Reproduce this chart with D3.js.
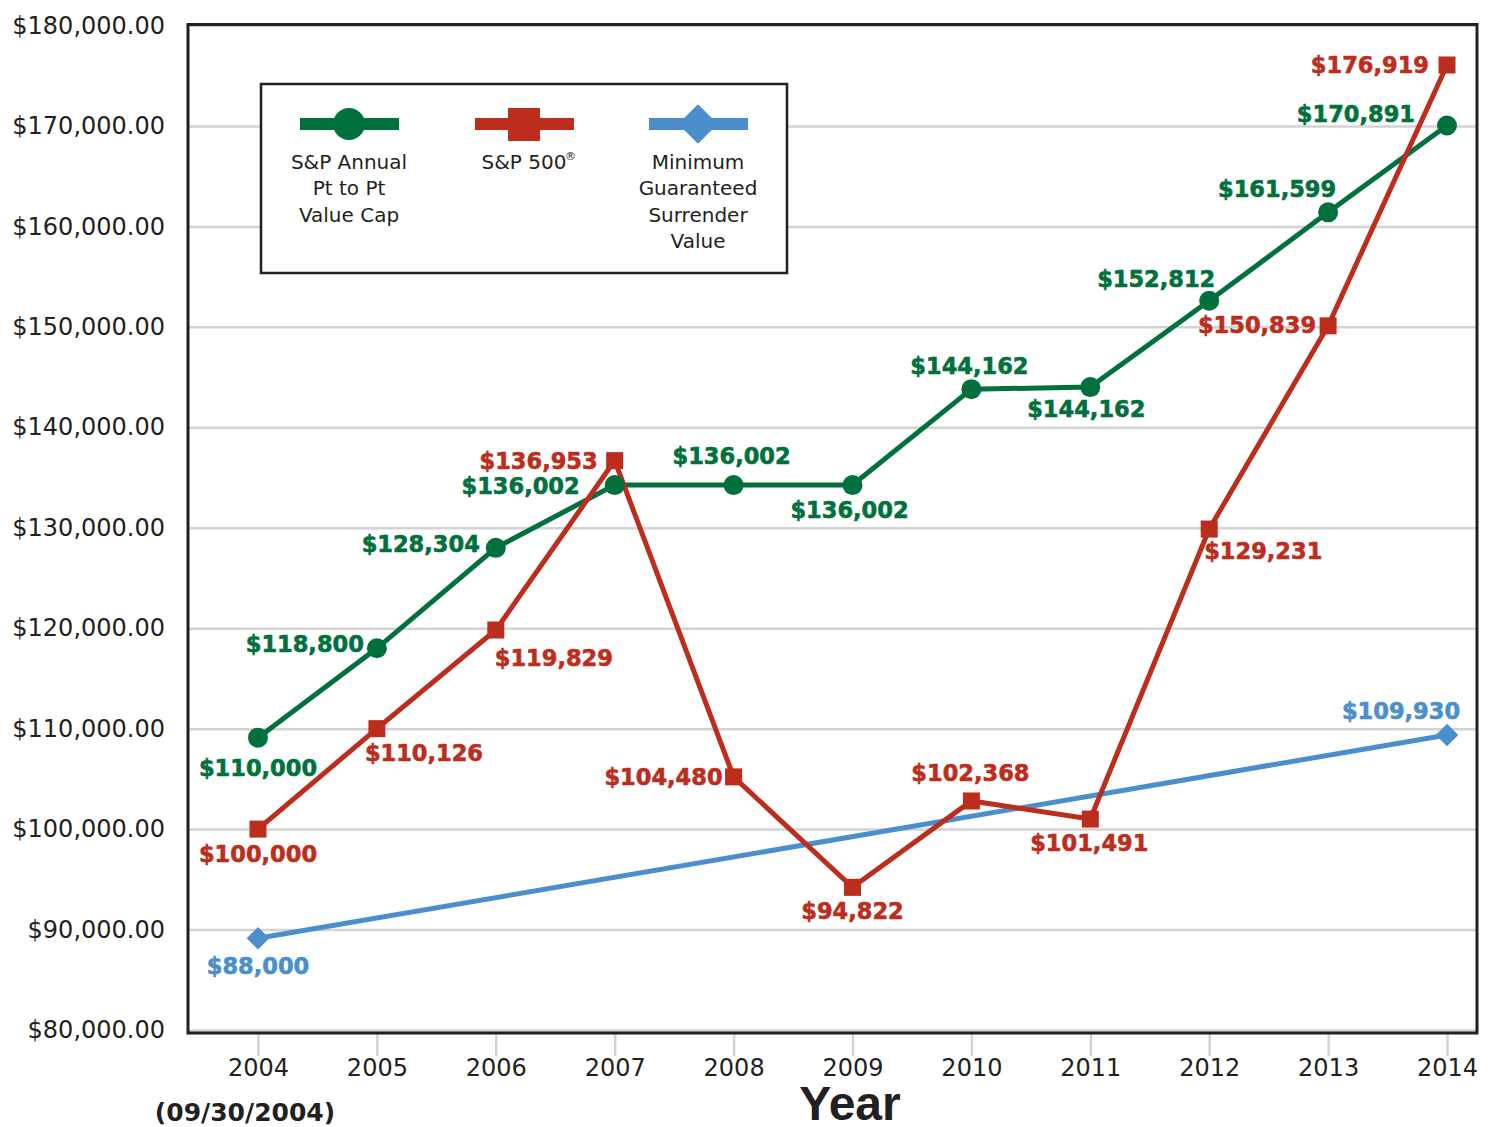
<!DOCTYPE html>
<html>
  <head>
    <title>Annual Pt to Pt vs S&amp;P 500</title>
    <script src="https://d3js.org/d3.v7.min.js"></script>
    <style>
      body {
        margin: 0;
        background-color: white;
      }
      svg text {
        fill: #231f20;
      }
    </style>
  </head>
  <body>
    <script>
      // data
      const years = [2004, 2005, 2006, 2007, 2008, 2009, 2010, 2011, 2012, 2013, 2014];
      const capValues = [109100, 118000, 128000, 134250, 134250, 134250, 143800, 144000, 152600, 161400, 170050];
      const capLabels = ['$110,000', '$118,800', '$128,304', '$136,002', '$136,002', '$136,002',
                         '$144,162', '$144,162', '$152,812', '$161,599', '$170,891'];
      const spValues = [100000, 110000, 119820, 136680, 105200, 94200, 102800, 101000, 129870, 150100, 176070];
      const spLabels = ['$100,000', '$110,126', '$119,829', '$136,953', '$104,480', '$94,822',
                        '$102,368', '$101,491', '$129,231', '$150,839', '$176,919'];
      const minYears = [2004, 2014];
      const minValues = [89130, 109370];
      const minLabels = ['$88,000', '$109,930'];
      const yTicks = [80000, 90000, 100000, 110000, 120000, 130000, 140000, 150000, 160000, 170000, 180000];

      const w = 1494;
      const h = 1127;
      const plotLeft = 188, plotRight = 1477, plotTop = 24.5, plotBottom = 1033;

      const green = '#00703c';
      const red = '#bd2d1d';
      const blue = '#4a8fcc';

      // label placement: [anchor, dx, dy]
      const capPlace = [['middle', 0, 38], ['end', -13, 4], ['end', -16, 4], ['end', -35, 9],
                        ['middle', -2, -21], ['middle', -3, 33], ['middle', -2, -15], ['middle', -4, 30],
                        ['middle', -53, -14], ['middle', -51, -15], ['end', -32, -3]];
      const spPlace = [['middle', 0, 33], ['start', -12, 32], ['start', -1, 36], ['end', -17, 8],
                       ['end', -11, 8], ['middle', 0, 32], ['middle', -1, -20], ['middle', -1, 32],
                       ['start', -5, 30], ['end', -12, 7], ['end', -18, 8]];
      const minPlace = [['middle', 0, 36], ['middle', -46, -16]];

      const svg = d3.select('body')
                    .append('svg')
                    .attr('width', w)
                    .attr('height', h);

      const x = d3.scaleLinear().domain([2004, 2014]).range([258, 1447]);
      const y = d3.scaleLinear().domain([80000, 180000]).range([1030, 25.5]);

      // gridlines + y labels
      const yAxis = svg.append('g')
                       .attr('transform', `translate(${plotLeft},0)`)
                       .call(d3.axisLeft(y)
                               .tickValues(yTicks)
                               .tickSize(-(plotRight - plotLeft))
                               .tickPadding(23)
                               .tickFormat(d3.format('$,.2f')));
      yAxis.select('.domain').remove();
      yAxis.selectAll('line').attr('stroke', '#d3d3d3').attr('stroke-width', 2.5);
      yAxis.selectAll('text')
           .style('font-family', 'DejaVu Sans')
           .style('font-size', '24px')
           .attr('fill', '#231f20');

      // x axis
      const xAxis = svg.append('g')
                       .attr('transform', `translate(0,${plotBottom})`)
                       .call(d3.axisBottom(x)
                               .tickValues(years)
                               .tickSize(23)
                               .tickPadding(3)
                               .tickFormat(d3.format('d')));
      xAxis.select('.domain').remove();
      xAxis.selectAll('line').attr('stroke', '#d3d3d3').attr('stroke-width', 2.5);
      xAxis.selectAll('text')
           .style('font-family', 'DejaVu Sans')
           .style('font-size', '24px')
           .attr('fill', '#231f20');

      // frame
      svg.append('rect')
         .attr('x', plotLeft)
         .attr('y', plotTop)
         .attr('width', plotRight - plotLeft)
         .attr('height', plotBottom - plotTop)
         .attr('fill', 'none')
         .attr('stroke', '#231f20')
         .attr('stroke-width', 3);

      svg.append('text')
         .attr('x', 850)
         .attr('y', 1120)
         .attr('text-anchor', 'middle')
         .style('font-family', 'Liberation Sans')
         .style('font-weight', 'bold')
         .style('font-size', '48px')
         .text('Year');

      svg.append('text')
         .attr('x', 245)
         .attr('y', 1121)
         .attr('text-anchor', 'middle')
         .style('font-family', 'DejaVu Sans')
         .style('font-weight', 'bold')
         .style('font-size', '25px')
         .text('(09/30/2004)');

      const line = d3.line().x(d => x(d[0])).y(d => y(d[1]));

      const capData = years.map((yr, i) => [yr, capValues[i]]);
      const spData = years.map((yr, i) => [yr, spValues[i]]);
      const minData = minYears.map((yr, i) => [yr, minValues[i]]);

      svg.append('path')
         .datum(minData)
         .attr('d', line)
         .attr('fill', 'none')
         .attr('stroke', blue)
         .attr('stroke-width', 5);

      svg.append('path')
         .datum(capData)
         .attr('d', line)
         .attr('fill', 'none')
         .attr('stroke', green)
         .attr('stroke-width', 5);

      svg.append('path')
         .datum(spData)
         .attr('d', line)
         .attr('fill', 'none')
         .attr('stroke', red)
         .attr('stroke-width', 5);

      svg.selectAll('.min-point')
         .data(minData)
         .enter()
         .append('rect')
         .attr('class', 'min-point')
         .attr('x', -8)
         .attr('y', -8)
         .attr('width', 16)
         .attr('height', 16)
         .attr('transform', d => `translate(${x(d[0])},${y(d[1])}) rotate(45)`)
         .attr('fill', blue);

      svg.selectAll('.cap-point')
         .data(capData)
         .enter()
         .append('circle')
         .attr('class', 'cap-point')
         .attr('cx', d => x(d[0]))
         .attr('cy', d => y(d[1]))
         .attr('r', 10)
         .attr('fill', green);

      svg.selectAll('.sp-point')
         .data(spData)
         .enter()
         .append('rect')
         .attr('class', 'sp-point')
         .attr('x', d => x(d[0]) - 8.5)
         .attr('y', d => y(d[1]) - 8.5)
         .attr('width', 17)
         .attr('height', 17)
         .attr('fill', red);

      function labels(data, texts, place, color) {
        svg.append('g')
           .selectAll('text')
           .data(data)
           .enter()
           .append('text')
           .attr('x', (d, i) => x(d[0]) + place[i][1])
           .attr('y', (d, i) => y(d[1]) + place[i][2])
           .attr('text-anchor', (d, i) => place[i][0])
           .style('font-family', 'DejaVu Sans')
           .style('font-weight', 'bold')
           .style('font-size', '22.5px')
           .style('fill', color)
           .style('stroke', color)
           .style('stroke-width', 0.6)
           .text((d, i) => texts[i]);
      }
      labels(capData, capLabels, capPlace, green);
      labels(spData, spLabels, spPlace, red);
      labels(minData, minLabels, minPlace, blue);

      // legend
      const legend = svg.append('g');
      legend.append('rect')
            .attr('x', 261)
            .attr('y', 84)
            .attr('width', 526)
            .attr('height', 189)
            .attr('fill', 'white')
            .attr('stroke', '#231f20')
            .attr('stroke-width', 2.5);

      const legendItems = [
        { cx: 349, color: green, shape: 'circle', lines: ['S&P Annual', 'Pt to Pt', 'Value Cap'] },
        { cx: 524, color: red, shape: 'square', lines: ['S&P 500'] },
        { cx: 698, color: blue, shape: 'diamond', lines: ['Minimum', 'Guaranteed', 'Surrender', 'Value'] }
      ];

      legendItems.forEach(item => {
        legend.append('line')
              .attr('x1', item.cx - 49)
              .attr('x2', item.cx + 50)
              .attr('y1', 124)
              .attr('y2', 124)
              .attr('stroke', item.color)
              .attr('stroke-width', 12);
        if (item.shape === 'circle') {
          legend.append('circle')
                .attr('cx', item.cx)
                .attr('cy', 124)
                .attr('r', 16)
                .attr('fill', item.color);
        } else if (item.shape === 'square') {
          legend.append('rect')
                .attr('x', item.cx - 16)
                .attr('y', 108)
                .attr('width', 32)
                .attr('height', 33)
                .attr('fill', item.color);
        } else {
          legend.append('rect')
                .attr('x', -14)
                .attr('y', -14)
                .attr('width', 28)
                .attr('height', 28)
                .attr('transform', `translate(${item.cx},124) rotate(45)`)
                .attr('fill', item.color);
        }
        item.lines.forEach((t, i) => {
          legend.append('text')
                .attr('x', item.cx)
                .attr('y', 169 + i * 26.3)
                .attr('text-anchor', 'middle')
                .style('font-family', 'DejaVu Sans')
                .style('font-size', '20px')
                .text(t);
        });
      });

      // registered mark on S&P 500
      legend.append('text')
            .attr('x', 565)
            .attr('y', 160)
            .style('font-family', 'DejaVu Sans')
            .style('font-size', '11px')
            .text('®');
    </script>
  </body>
</html>
